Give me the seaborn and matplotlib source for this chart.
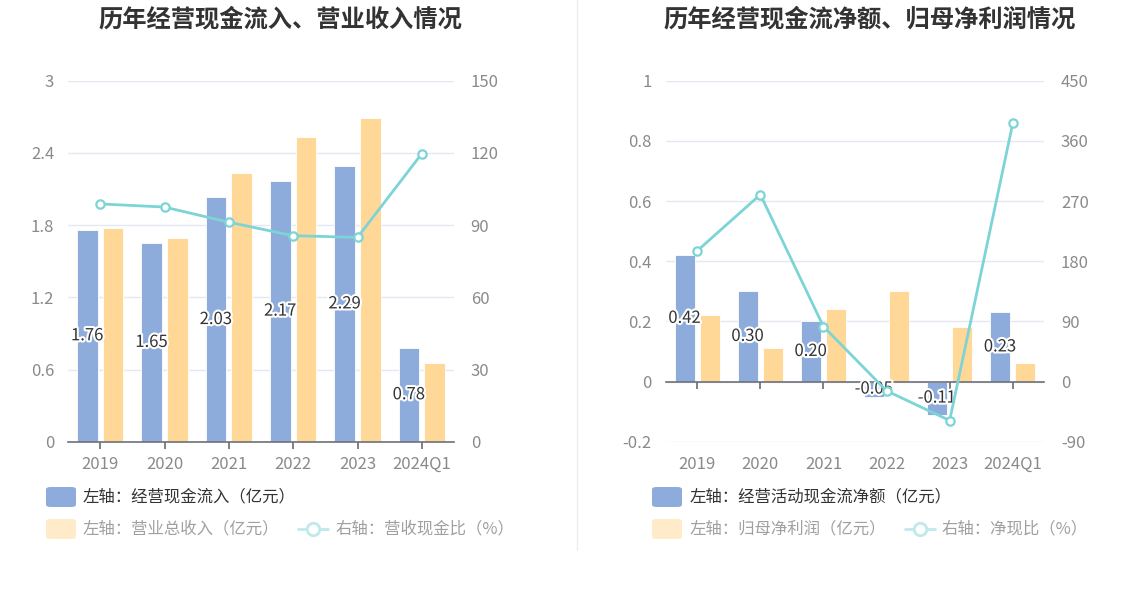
import numpy as np
import pandas as pd
import seaborn as sns
import matplotlib.pyplot as plt
import matplotlib.patheffects as pe
from matplotlib.patches import FancyBboxPatch
from matplotlib.lines import Line2D

years = ["2019", "2020", "2021", "2022", "2023", "2024Q1"]

# left chart
cash_in = [1.76, 1.65, 2.03, 2.17, 2.29, 0.78]
revenue = [1.78, 1.69, 2.23, 2.53, 2.69, 0.65]
cash_ratio = [98.8, 97.5, 91.2, 85.6, 84.9, 119.7]

# right chart
net_cash = [0.42, 0.30, 0.20, -0.05, -0.11, 0.23]
net_profit = [0.22, 0.11, 0.24, 0.30, 0.18, 0.06]
net_ratio = [195.5, 279.7, 82.3, -13.9, -58.3, 386.0]

BLUE = "#8eacdb"
ORANGE = "#ffd898"
TEAL = "#7dd4d6"
GRID = "#e3e8f2"
TICK = "#8a8a8a"
AXIS = "#6e7079"

sns.set_theme(style="white")
plt.rcParams["font.family"] = ["Noto Sans CJK SC", "DejaVu Sans"]
plt.rcParams["axes.unicode_minus"] = False

W, H = 1148, 589
fig = plt.figure(figsize=(W / 100, H / 100), dpi=100)


def fx(px):
    return px / W


def fy(py):
    return 1 - py / H


def draw_panel(left, right, bar1, bar2, ratio, names, ylim, yticks, y2lim, y2ticks, zero_axis):
    ax = fig.add_axes([fx(left), fy(441.7), fx(right - left), (441.7 - 80.7) / H])
    df = pd.DataFrame({
        "year": years * 2,
        "value": bar1 + bar2,
        "series": [names[0]] * len(years) + [names[1]] * len(years),
    })
    sns.barplot(data=df, x="year", y="value", hue="series", order=years,
                palette=[BLUE, ORANGE], width=0.8, gap=0.2, saturation=1,
                edgecolor="white", linewidth=0.6,
                legend=False, ax=ax, zorder=2)
    ax.set_xlim(-0.5, len(years) - 0.5)
    ax.set_ylim(*ylim)
    ax.set_yticks(yticks)
    ax.set_yticklabels([f"{t:g}" for t in yticks])
    ax.set_xlabel("")
    ax.set_ylabel("")
    ax.grid(axis="y", color=GRID, linewidth=1)
    ax.set_axisbelow(True)
    for s in ["top", "right", "left"]:
        ax.spines[s].set_visible(False)
    ax.tick_params(axis="y", length=0, pad=10, labelsize=12, labelcolor=TICK)
    ax.tick_params(axis="x", labelsize=12, labelcolor=TICK, pad=5)
    if zero_axis:
        ax.spines["bottom"].set_visible(False)
        ax.tick_params(axis="x", length=0, pad=10)
        sec = ax.secondary_xaxis((0 - ylim[0]) / (ylim[1] - ylim[0]))
        sec.set_xticks(range(len(years)))
        sec.set_xticklabels([])
        sec.spines["bottom"].set_color(AXIS)
        sec.spines["bottom"].set_linewidth(1.2)
        sec.tick_params(axis="x", length=5, color=AXIS, direction="out")
        sec.set_zorder(2.5)
    else:
        ax.spines["bottom"].set_color(AXIS)
        ax.spines["bottom"].set_linewidth(1.2)
        ax.spines["bottom"].set_zorder(2.5)
        ax.tick_params(axis="x", length=5, color=AXIS, direction="out", bottom=True)

    labels = ax.bar_label(ax.containers[0], labels=[f"{v:.2f}" for v in bar1],
                          label_type="center", fontsize=12, color="#333333")
    for t in labels:
        t.set_path_effects([pe.withStroke(linewidth=3, foreground="white")])
        t.set_zorder(3)

    ax2 = ax.twinx()
    ldf = pd.DataFrame({"pos": range(len(years)), "ratio": ratio})
    sns.lineplot(data=ldf, x="pos", y="ratio", ax=ax2, color=TEAL, linewidth=2,
                 marker="o", markersize=6, markerfacecolor="white",
                 markeredgecolor=TEAL, markeredgewidth=1.6, zorder=5)
    ax2.set_ylim(*y2lim)
    ax2.set_yticks(y2ticks)
    ax2.set_yticklabels([f"{t:g}" for t in y2ticks])
    ax2.set_ylabel("")
    ax2.set_xlabel("")
    ax2.grid(False)
    for s in ax2.spines.values():
        s.set_visible(False)
    ax2.tick_params(axis="y", length=0, pad=12, labelsize=12, labelcolor=TICK)
    ax.set_xlim(-0.5, len(years) - 0.5)
    return ax


draw_panel(68, 454, cash_in, revenue, cash_ratio, ["cash_in", "revenue"],
           (0, 3), [0, 0.6, 1.2, 1.8, 2.4, 3], (0, 150), [0, 30, 60, 90, 120, 150], False)
draw_panel(665.7, 1044.3, net_cash, net_profit, net_ratio, ["net_cash", "net_profit"],
           (-0.2, 1), [-0.2, 0, 0.2, 0.4, 0.6, 0.8, 1], (-90, 450),
           [-90, 0, 90, 180, 270, 360, 450], True)

# titles
fig.text(fx(280), fy(19), "历年经营现金流入、营业收入情况", ha="center", va="center",
         fontsize=17.5, fontweight="bold", color="#333333")
fig.text(fx(870), fy(19), "历年经营现金流净额、归母净利润情况", ha="center", va="center",
         fontsize=17.5, fontweight="bold", color="#333333")

# separator
fig.add_artist(Line2D([fx(577), fx(577)], [fy(0), fy(550)], color="#eeeeee", linewidth=1))


def legend_box(x, y, color):
    fig.add_artist(FancyBboxPatch((fx(x), fy(y + 10)), fx(30), 20 / H,
                                  boxstyle="round,pad=0,rounding_size=0.004",
                                  transform=fig.transFigure, facecolor=color, edgecolor="none"))


def legend_line(x, y):
    fig.add_artist(Line2D([fx(x), fx(x + 30)], [fy(y), fy(y)], color="#bfe9ea", linewidth=2))
    fig.add_artist(Line2D([fx(x + 15)], [fy(y)], color="#bfe9ea", marker="o", markersize=9,
                          markerfacecolor="white", markeredgewidth=2))


def legend_text(x, y, s, color):
    fig.text(fx(x), fy(y), s, ha="left", va="center", fontsize=11.8, color=color)


legend_box(46, 497, BLUE)
legend_text(83, 497, "左轴：经营现金流入（亿元）", "#333333")
legend_box(46, 529, "#ffebc9")
legend_text(83, 529, "左轴：营业总收入（亿元）", "#a0a0a0")
legend_line(298, 529)
legend_text(335, 529, "右轴：营收现金比（%）", "#a0a0a0")

legend_box(652, 497, BLUE)
legend_text(690, 497, "左轴：经营活动现金流净额（亿元）", "#333333")
legend_box(652, 529, "#ffebc9")
legend_text(690, 529, "左轴：归母净利润（亿元）", "#a0a0a0")
legend_line(905, 529)
legend_text(942, 529, "右轴：净现比（%）", "#a0a0a0")

fig.savefig("out.png", dpi=100)
